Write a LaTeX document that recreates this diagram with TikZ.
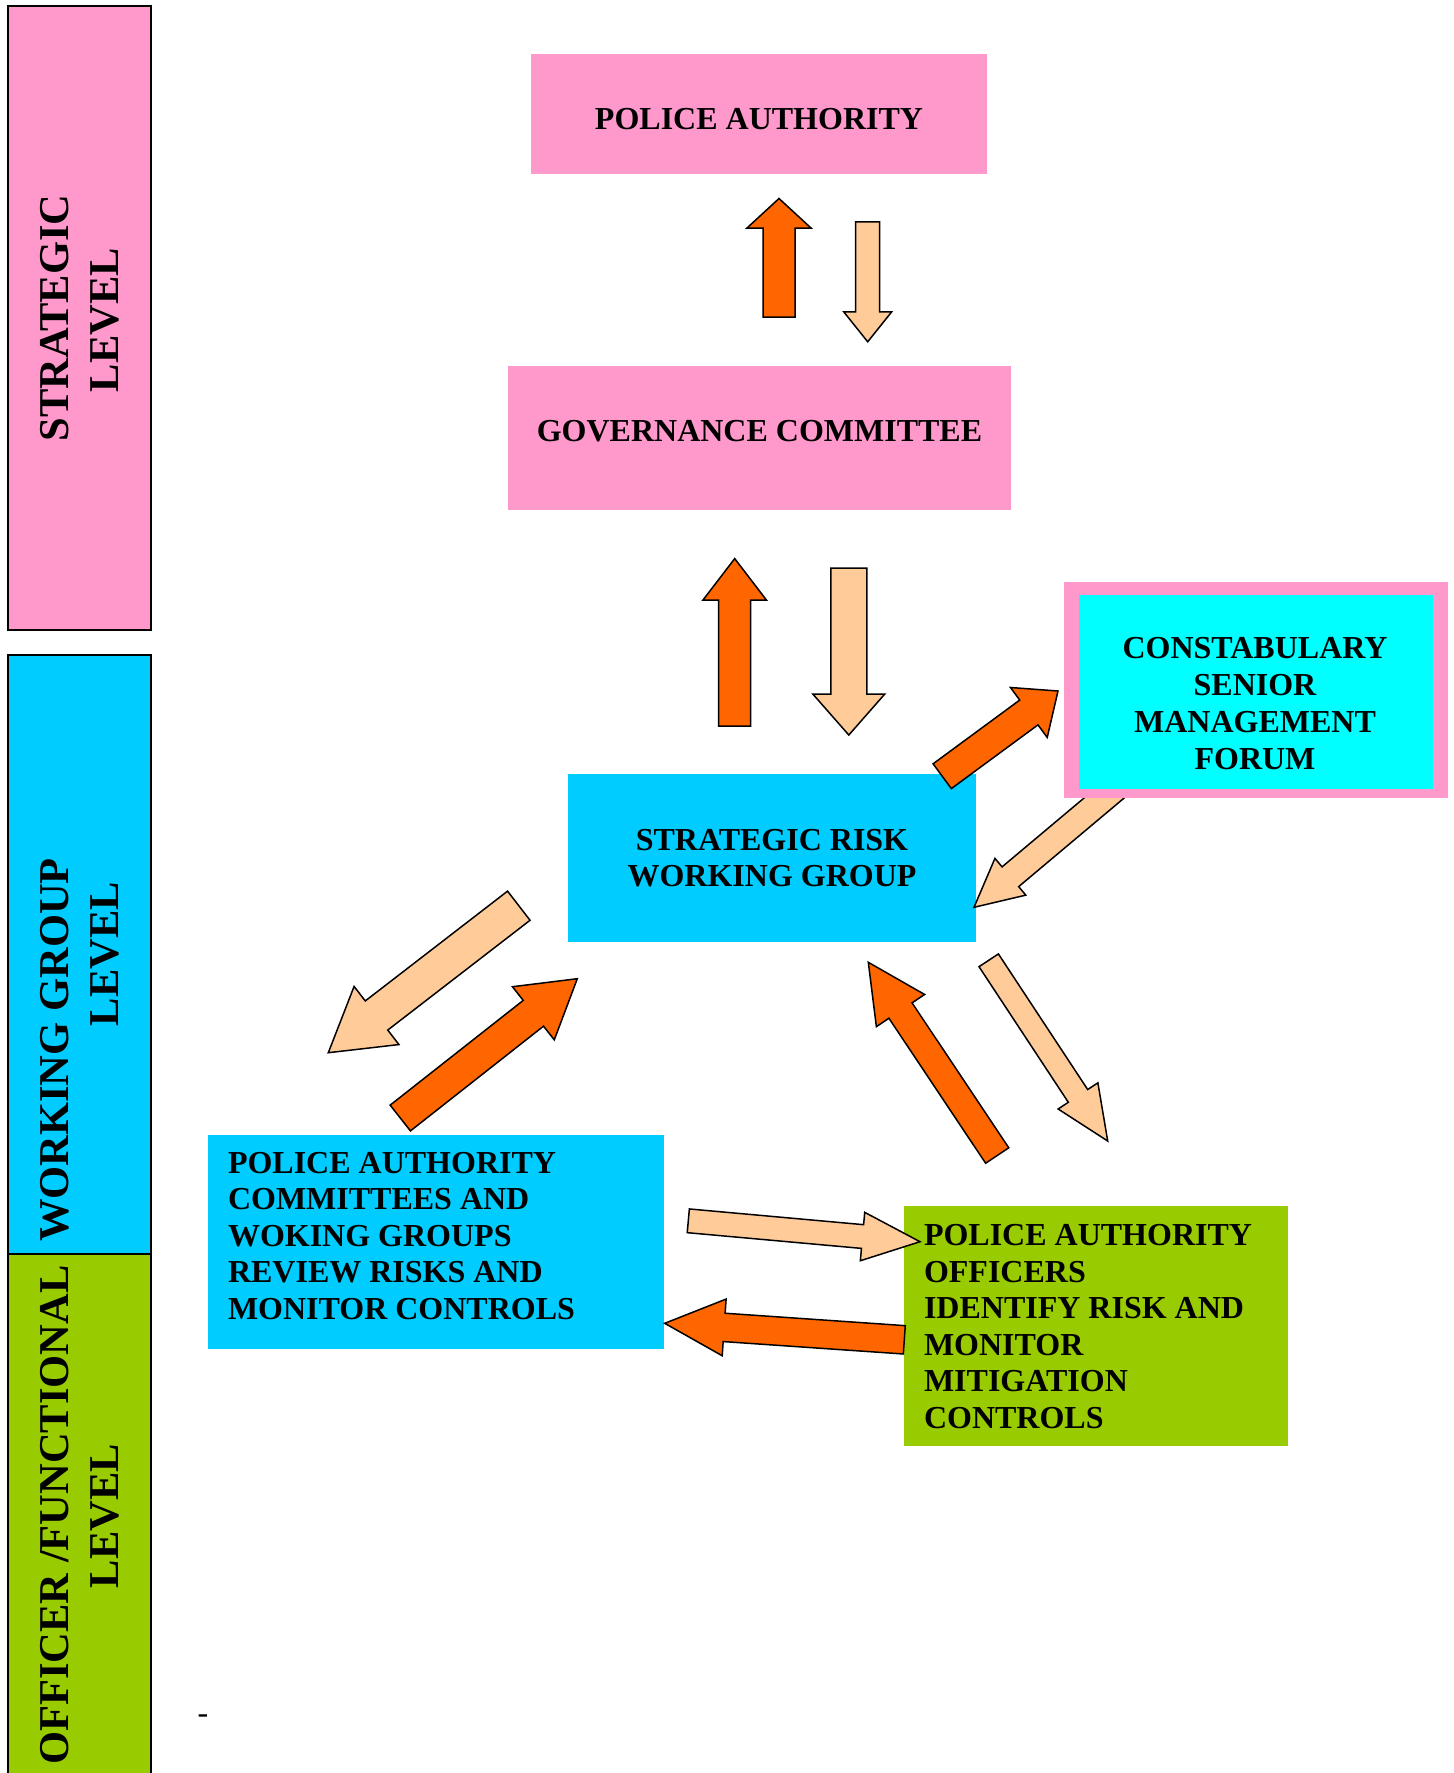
\documentclass[tikz,border=0pt]{standalone}
\usepackage{fontspec}
\setmainfont{Liberation Serif}
\usetikzlibrary{calc}
\definecolor{pinkc}{HTML}{FF99CC}
\definecolor{bluec}{HTML}{00CCFF}
\definecolor{cyanc}{HTML}{00FFFF}
\definecolor{greenc}{HTML}{99CC00}
\definecolor{orangec}{HTML}{FF6600}
\definecolor{peachc}{HTML}{FFCC99}
% #1 style, #2 tail, #3 tip, #4 shaft half width, #5 head half width, #6 head length
\newcommand{\blockarrow}[6]{%
  \path ($(#3)!#6!(#2)$) coordinate (#3-hb);
  \draw[#1] ($(#2)!#4!90:(#3)$) -- ($(#3-hb)!#4!90:(#3)$) -- ($(#3-hb)!#5!90:(#3)$) -- (#3)
    -- ($(#3-hb)!#5!-90:(#3)$) -- ($(#3-hb)!#4!-90:(#3)$) -- ($(#2)!#4!-90:(#3)$) -- cycle;}
\begin{document}
\begin{tikzpicture}[x=1pt,y=-1pt,
  orangearrow/.style={fill=orangec,draw=black,line width=1.5pt,line join=miter},
  peacharrow/.style={fill=peachc,draw=black,line width=1.5pt,line join=miter},
  box/.style={draw=none,inner sep=0pt,outer sep=0pt},
  levelbar/.style={draw=black,line width=2pt,inner sep=0pt,outer sep=0pt},
  boxtext/.style={inner sep=0pt,outer sep=0pt,font=\fontsize{32}{36.6}\selectfont\bfseries},
  leveltext/.style={inner sep=0pt,outer sep=0pt,rotate=90,anchor=base,font=\fontsize{42.5}{49}\selectfont\bfseries}]
\useasboundingbox (0,0) rectangle (1454,1773);
\fill[white] (0,0) rectangle (1454,1773);

% level bars
\node[levelbar,fill=pinkc,minimum width=143pt,minimum height=624pt] (strategicbar) at (79.5,318) {};
\node[levelbar,fill=bluec,minimum width=143pt,minimum height=599pt] (workingbar) at (79.5,954.5) {};
\node[levelbar,fill=greenc,minimum width=143pt,minimum height=560pt] (officerbar) at (79.5,1534) {};

\node[leveltext] (strat1) at (68.3,318) {STRATEGIC};
\node[leveltext] (strat2) at (118.3,320) {LEVEL};
\node[leveltext] (work1) at (68.3,1050) {WORKING GROUP};
\node[leveltext] (work2) at (118.3,954) {LEVEL};
\node[leveltext] (off1) at (68.3,1515) {OFFICER /FUNCTIONAL};
\node[leveltext] (off2) at (118.3,1516) {LEVEL};

% boxes
\node[box,fill=pinkc,minimum width=456pt,minimum height=120pt] (pa) at (759,114.2) {};
\node[box,fill=pinkc,minimum width=503pt,minimum height=143.6pt] (gc) at (759.2,438.1) {};
\node[box,fill=bluec,minimum width=408.5pt,minimum height=167.6pt] (srwg) at (772.2,858.1) {};
\node[box,fill=bluec,minimum width=456.2pt,minimum height=214pt] (pac) at (436.1,1242) {};
\node[box,fill=greenc,minimum width=383.6pt,minimum height=240.3pt] (pao) at (1096.1,1325.9) {};

% arrow under the forum box
\coordinate (a6t) at (1116,788);
\coordinate (a6h) at (974,907.3);
\blockarrow{peacharrow}{a6t}{a6h}{12.9pt}{24pt}{47.5pt}

\node[box,fill=pinkc,minimum width=384.5pt,minimum height=216.3pt] (csmfo) at (1255.8,690.2) {};
\node[box,fill=cyanc,minimum width=353.2pt,minimum height=193.7pt] (csmf) at (1255.9,691.9) {};

% arrows
\coordinate (a1t) at (779,317);     \coordinate (a1h) at (779,198.5);
\coordinate (a2t) at (867.7,221.8); \coordinate (a2h) at (867.7,341.8);
\coordinate (a3t) at (734.7,726);   \coordinate (a3h) at (734.7,558.6);
\coordinate (a4t) at (848.8,568);   \coordinate (a4h) at (848.8,735);
\coordinate (a5t) at (942.2,776.2); \coordinate (a5h) at (1058,691);
\coordinate (a7t) at (518.8,905.7); \coordinate (a7h) at (328.3,1052.7);
\coordinate (a8t) at (400.3,1118);  \coordinate (a8h) at (577.3,978.7);
\coordinate (a9t) at (997.2,1155.5); \coordinate (a9h) at (868.3,962.3);
\coordinate (a10t) at (988.7,960.3); \coordinate (a10h) at (1107.7,1141);
\coordinate (a11t) at (688.3,1220.8); \coordinate (a11h) at (920,1241.7);
\coordinate (a12t) at (904.3,1339.8); \coordinate (a12h) at (664.7,1323.3);

\blockarrow{orangearrow}{a1t}{a1h}{16pt}{32pt}{29.5pt}
\blockarrow{peacharrow}{a2t}{a2h}{12pt}{24pt}{30pt}
\blockarrow{orangearrow}{a3t}{a3h}{16pt}{31.7pt}{41.4pt}
\blockarrow{peacharrow}{a4t}{a4h}{18pt}{36pt}{41pt}
\blockarrow{orangearrow}{a5t}{a5h}{15.4pt}{31pt}{36.2pt}
\blockarrow{peacharrow}{a7t}{a7h}{18.4pt}{36.7pt}{60.9pt}
\blockarrow{orangearrow}{a8t}{a8h}{16.4pt}{33.8pt}{55.9pt}
\blockarrow{orangearrow}{a9t}{a9h}{13.9pt}{29pt}{58pt}
\blockarrow{peacharrow}{a10t}{a10h}{11.6pt}{23.8pt}{54pt}
\blockarrow{peacharrow}{a11t}{a11h}{11.9pt}{24.3pt}{57.7pt}
\blockarrow{orangearrow}{a12t}{a12h}{14.2pt}{28.4pt}{59.6pt}

% texts
\node[boxtext] (patext) at (759,118.7) {POLICE AUTHORITY};
\node[boxtext] (gctext) at (759.5,430.8) {GOVERNANCE COMMITTEE};
\node[boxtext,align=center,font=\fontsize{32}{36}\selectfont\bfseries] (srwgtext) at (772,858) {STRATEGIC RISK\\WORKING GROUP};
\node[boxtext,align=center,font=\fontsize{32}{37}\selectfont\bfseries] (csmftext) at (1255,703.5) {CONSTABULARY\\SENIOR\\MANAGEMENT\\FORUM};
\node[boxtext,align=left,anchor=west,font=\fontsize{32}{36.5}\selectfont\bfseries] (pactext) at (228,1236) {POLICE AUTHORITY\\COMMITTEES AND\\WOKING GROUPS\\REVIEW RISKS AND\\MONITOR CONTROLS};
\node[boxtext,align=left,anchor=west,font=\fontsize{32}{36.6}\selectfont\bfseries] (paotext) at (924,1326.5) {POLICE AUTHORITY\\OFFICERS\\IDENTIFY RISK AND\\MONITOR\\MITIGATION\\CONTROLS};
\node[boxtext,anchor=base west,font=\fontsize{32}{36}\selectfont] (dash) at (197.7,1723) {-};
\end{tikzpicture}
\end{document}
